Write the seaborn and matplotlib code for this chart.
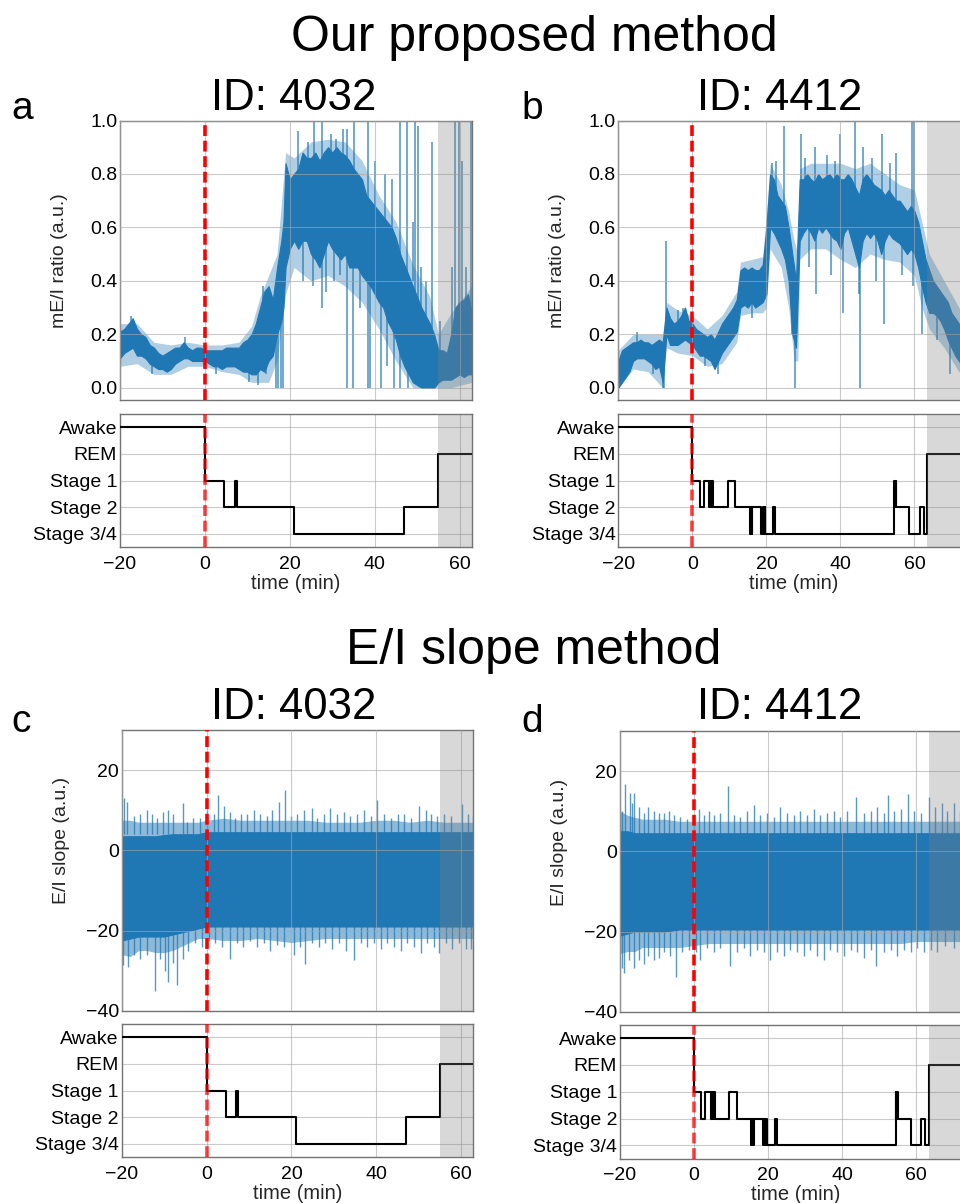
import numpy as np
import pandas as pd
import matplotlib
matplotlib.use("Agg")
import matplotlib.pyplot as plt
import seaborn as sns

# ---------------- data ----------------
STAGES = ["Stage 3/4", "Stage 2", "Stage 1", "REM", "Awake"]   # level 0..4

# Hypnogram, subject 4032 (step starts, minutes)
hyp_4032_t = [-20, 0, 4.5, 7.0, 7.5, 21.0, 47.0, 55.0, 62.85]
hyp_4032_s = ["Awake", "Stage 1", "Stage 2", "Stage 1", "Stage 2",
              "Stage 3/4", "Stage 2", "REM", "REM"]

# Hypnogram, subject 4412
hyp_4412_t = [-20, 0, 2.0, 3.1, 4.5, 4.8, 5.1, 5.4, 5.6, 9.5, 11.6, 15.5, 15.8,
              16.0, 16.2, 18.6, 19.0, 19.3, 19.5, 19.7, 21.9, 22.3, 54.5, 54.7,
              54.9, 55.1, 58.6, 61.4, 62.5, 63.5, 75.0]
hyp_4412_s = ["Awake", "Stage 1", "Stage 2", "Stage 1", "Stage 2", "Stage 1",
              "Stage 2", "Stage 1", "Stage 2", "Stage 1", "Stage 2", "Stage 3/4",
              "Stage 2", "Stage 3/4", "Stage 2", "Stage 3/4", "Stage 2",
              "Stage 3/4", "Stage 2", "Stage 3/4", "Stage 2", "Stage 3/4",
              "Stage 1", "Stage 2", "Stage 1", "Stage 2", "Stage 3/4", "Stage 2",
              "Stage 3/4", "REM", "REM"]

# mE/I ratio, 4032: envelope (low / high) of the dense trace
a_t = [-20, -19, -18, -17, -16, -15, -14, -13, -12, -11, -10, -9, -8, -7, -6, -5,
       -4, -3, -2, -1, 0, 1, 2, 3, 4, 5, 6, 7, 8, 9, 10, 11, 12, 13, 14, 15, 16,
       17, 18, 18.5, 19, 20, 21, 22, 23, 24, 25, 26, 27, 28, 29, 30, 31, 32, 33,
       34, 35, 36, 37, 38, 39, 40, 41, 42, 43, 44, 45, 46, 47, 48, 49, 50, 51,
       52, 53, 54, 55, 56, 57, 58, 59, 60, 61, 62, 62.85]
a_lo = [0.11, 0.13, 0.14, 0.15, 0.12, 0.12, 0.11, 0.09, 0.08, 0.07, 0.07, 0.06,
        0.07, 0.09, 0.10, 0.11, 0.11, 0.10, 0.10, 0.10, 0.10, 0.09, 0.08, 0.08,
        0.07, 0.08, 0.08, 0.08, 0.07, 0.06, 0.06, 0.05, 0.05, 0.07, 0.06, 0.10,
        0.12, 0.20, 0.25, 0.30, 0.45, 0.52, 0.55, 0.52, 0.55, 0.55, 0.50, 0.48,
        0.45, 0.50, 0.55, 0.52, 0.50, 0.48, 0.50, 0.45, 0.45, 0.45, 0.42, 0.40,
        0.38, 0.35, 0.32, 0.30, 0.25, 0.22, 0.18, 0.12, 0.08, 0.05, 0.02, 0.01,
        0.00, 0.00, 0.00, 0.00, 0.02, 0.03, 0.03, 0.03, 0.04, 0.05, 0.04, 0.05,
        0.05]
a_hi = [0.21, 0.22, 0.24, 0.26, 0.22, 0.20, 0.19, 0.16, 0.15, 0.13, 0.12, 0.13,
        0.14, 0.15, 0.15, 0.17, 0.15, 0.14, 0.15, 0.15, 0.14, 0.14, 0.14, 0.14,
        0.14, 0.15, 0.15, 0.15, 0.15, 0.17, 0.18, 0.20, 0.24, 0.30, 0.36, 0.38,
        0.33, 0.45, 0.55, 0.62, 0.84, 0.78, 0.80, 0.82, 0.88, 0.86, 0.86, 0.88,
        0.85, 0.88, 0.90, 0.88, 0.90, 0.88, 0.87, 0.85, 0.82, 0.80, 0.78, 0.72,
        0.70, 0.68, 0.66, 0.64, 0.62, 0.60, 0.56, 0.50, 0.46, 0.42, 0.38, 0.34,
        0.30, 0.27, 0.24, 0.20, 0.14, 0.14, 0.13, 0.20, 0.30, 0.32, 0.33, 0.35,
        0.28]
# lighter outer extent of the trace
a_ft = [-20, -16, -12, -8, -4, 0, 4, 8, 11, 13, 15, 17, 19, 21, 25, 29, 33, 37,
        41, 45, 49, 53, 55, 58, 62.85]
a_flo = [0.08, 0.09, 0.05, 0.05, 0.08, 0.08, 0.06, 0.05, 0.02, 0.02, 0.02, 0.10,
         0.35, 0.45, 0.40, 0.42, 0.38, 0.32, 0.22, 0.10, 0.0, 0.0, 0.0, 0.0, 0.02]
a_fhi = [0.24, 0.24, 0.17, 0.16, 0.17, 0.16, 0.16, 0.17, 0.23, 0.34, 0.42, 0.50,
         0.88, 0.86, 0.92, 0.93, 0.92, 0.85, 0.72, 0.62, 0.46, 0.34, 0.20, 0.28,
         0.38]
# isolated excursions: (time, from, to)
a_spikes = [(-4.6, 0.14, 0.19), (13.8, 0.25, 0.38), (22.0, 0.70, 0.96),
            (24.2, 0.75, 0.92), (25.6, 0.75, 1.0), (27.6, 0.75, 1.0),
            (29.7, 0.75, 0.95), (30.8, 0.75, 0.93), (32.5, 0.75, 0.97),
            (33.5, 0.75, 0.97), (35.2, 0.70, 1.0), (38.4, 0.60, 1.0),
            (45.9, 0.40, 1.0), (47.7, 0.35, 1.0), (49.6, 0.30, 1.0),
            (50.1, 0.30, 0.98), (52.0, 0.20, 0.40), (53.5, 0.20, 0.92),
            (55.5, 0.10, 0.25), (58.3, 0.20, 0.45), (59.0, 0.20, 1.0),
            (59.8, 0.20, 1.0), (60.5, 0.20, 0.85), (62.7, 0.20, 1.0),
            (16.8, 0.20, 0.0), (17.3, 0.25, 0.0), (17.9, 0.30, 0.0),
            (18.3, 0.30, 0.0), (25.4, 0.60, 0.38), (27.6, 0.60, 0.30),
            (30.5, 0.60, 0.40), (33.5, 0.60, 0.0), (34.9, 0.55, 0.0),
            (36.5, 0.50, 0.30), (38.4, 0.50, 0.0), (38.8, 0.50, 0.0),
            (41.5, 0.40, 0.0), (43.0, 0.35, 0.08), (44.5, 0.35, 0.0),
            (45.9, 0.30, 0.0), (47.8, 0.20, 0.0), (-17.3, 0.18, 0.27),
            (-12.5, 0.09, 0.05), (2.5, 0.10, 0.05), (10.5, 0.10, 0.02),
            (12.5, 0.10, 0.01), (14.5, 0.10, 0.05), (23.0, 0.60, 0.40),
            (28.5, 0.60, 0.36), (31.8, 0.60, 0.42), (40.0, 0.60, 0.85),
            (42.5, 0.60, 0.80), (44.0, 0.55, 0.78), (49.0, 0.40, 0.62),
            (51.0, 0.20, 0.45), (61.5, 0.20, 0.45)]

# mE/I ratio, 4412
b_t = list(range(-20, 76))
b_lo = [0.00, 0.02, 0.04, 0.06, 0.10, 0.11, 0.11, 0.11, 0.10, 0.09, 0.07, 0.08,
        0.02, 0.20, 0.16, 0.16, 0.16, 0.17, 0.18, 0.17, 0.16, 0.14, 0.12, 0.12,
        0.11, 0.10, 0.07, 0.10, 0.13, 0.15, 0.17, 0.19, 0.21, 0.30, 0.31, 0.30,
        0.32, 0.30, 0.31, 0.32, 0.35, 0.60, 0.58, 0.55, 0.52, 0.48, 0.40, 0.20,
        0.15, 0.55, 0.58, 0.60, 0.58, 0.55, 0.60, 0.58, 0.60, 0.58, 0.56, 0.55,
        0.52, 0.58, 0.60, 0.55, 0.50, 0.45, 0.55, 0.58, 0.56, 0.58, 0.55, 0.50,
        0.55, 0.58, 0.56, 0.55, 0.54, 0.52, 0.50, 0.52, 0.50, 0.45, 0.38, 0.32,
        0.28, 0.28, 0.27, 0.25, 0.22, 0.18, 0.15, 0.12, 0.10, 0.08, 0.07, 0.06]
b_hi = [0.10, 0.14, 0.15, 0.16, 0.17, 0.17, 0.18, 0.17, 0.17, 0.16, 0.17, 0.18,
        0.17, 0.30, 0.26, 0.24, 0.25, 0.27, 0.30, 0.25, 0.24, 0.22, 0.21, 0.20,
        0.19, 0.20, 0.18, 0.21, 0.24, 0.26, 0.28, 0.30, 0.33, 0.44, 0.45, 0.44,
        0.45, 0.44, 0.44, 0.46, 0.60, 0.80, 0.78, 0.72, 0.70, 0.68, 0.60, 0.50,
        0.40, 0.78, 0.78, 0.80, 0.78, 0.77, 0.80, 0.78, 0.79, 0.80, 0.78, 0.80,
        0.78, 0.78, 0.80, 0.78, 0.75, 0.72, 0.78, 0.80, 0.78, 0.76, 0.75, 0.74,
        0.72, 0.74, 0.72, 0.70, 0.70, 0.68, 0.66, 0.68, 0.66, 0.62, 0.55, 0.48,
        0.44, 0.40, 0.38, 0.36, 0.34, 0.32, 0.28, 0.26, 0.24, 0.22, 0.20, 0.18]
b_ft = [-20, -16, -12, -8, -7, -4, 0, 4, 8, 12, 13, 16, 19, 20, 21, 24, 26, 27.5,
        28.5, 29, 32, 36, 40, 44, 48, 52, 56, 60, 62, 64, 68, 72, 75]
b_flo = [0.0, 0.07, 0.06, 0.0, 0.15, 0.13, 0.12, 0.08, 0.09, 0.17, 0.27, 0.28,
         0.28, 0.30, 0.52, 0.45, 0.30, 0.10, 0.10, 0.48, 0.52, 0.52, 0.48, 0.45,
         0.50, 0.48, 0.47, 0.42, 0.30, 0.22, 0.15, 0.06, 0.04]
b_fhi = [0.14, 0.20, 0.20, 0.20, 0.32, 0.29, 0.27, 0.22, 0.27, 0.36, 0.47, 0.48,
         0.49, 0.65, 0.84, 0.76, 0.66, 0.55, 0.50, 0.82, 0.84, 0.84, 0.84, 0.82,
         0.84, 0.80, 0.76, 0.74, 0.62, 0.50, 0.40, 0.30, 0.24]
b_spikes = [(-7.1, 0.25, 0.55), (-2.5, 0.22, 0.30), (21.5, 0.70, 0.84),
            (24.7, 0.65, 0.98), (29.4, 0.70, 0.95), (33.0, 0.70, 0.90),
            (36.5, 0.70, 0.87), (40.0, 0.70, 0.95), (43.9, 0.70, 1.0),
            (46.0, 0.70, 0.90), (51.3, 0.70, 0.95), (55.0, 0.68, 0.88),
            (59.2, 0.62, 1.0), (60.0, 0.62, 1.0), (-10.5, 0.10, 0.05),
            (-8.0, 0.10, 0.0), (-7.7, 0.10, 0.0), (6.9, 0.12, 0.05),
            (26.9, 0.40, 0.20), (27.8, 0.30, 0.0), (33.5, 0.60, 0.35),
            (37.5, 0.60, 0.42), (40.6, 0.60, 0.28), (44.9, 0.55, 0.35),
            (45.4, 0.55, 0.0), (51.7, 0.60, 0.24), (59.5, 0.55, 0.38),
            (62.1, 0.45, 0.20), (69.7, 0.20, 0.05), (-15.0, 0.12, 0.21),
            (-4.0, 0.20, 0.29), (3.5, 0.15, 0.08), (16.0, 0.35, 0.26),
            (22.5, 0.65, 0.85), (30.5, 0.65, 0.86), (38.5, 0.65, 0.85),
            (48.5, 0.65, 0.86), (53.5, 0.65, 0.84), (31.5, 0.60, 0.45),
            (49.5, 0.58, 0.40), (56.5, 0.58, 0.42), (66.0, 0.30, 0.18)]

# E/I slope, 4032: dense core and lighter fringe envelopes
c_t = [-20, -18, -16, -14, -12, -10, -8, -6, -4, -2, 0, 4, 8, 12, 16, 20, 24,
       28, 32, 36, 40, 44, 48, 52, 56, 60, 62.85]
c_lo = [-22.5, -22, -21.5, -21.5, -21.5, -21.5, -21, -20.5, -20, -19.5, -19,
        -19, -19, -19, -19, -19, -19, -19, -19, -19, -19, -19, -19, -19, -19,
        -19, -19]
c_hi = [3.5, 3.5, 3.5, 3.5, 3.5, 3.8, 4, 4, 4, 4, 4.5, 4.5, 4.5, 4.5, 4.5, 4.5,
        4.5, 4.5, 4.5, 4.5, 4.5, 4.5, 4.5, 4.5, 4.5, 4.5, 4.5]
c_flo = [-26, -26.5, -25, -25, -25.5, -25.5, -25, -24, -23, -22, -22, -22.5,
         -22.5, -22, -22.5, -23, -22.5, -22, -22, -22, -22, -22, -22, -22, -22,
         -22, -22]
c_fhi = [7.5, 7.5, 7, 7, 7, 7, 7, 7, 7, 7, 7.5, 8, 7.5, 7.5, 7.5, 7.5, 7.5, 7,
         7, 7, 7.5, 7.5, 7, 7.5, 7, 7, 7]
# spike tips above / below the dense core
c_up_t = [-19.4, -18.8, -17.2, -15.7, -14.1, -12.9, -11.7, -10.2, -9.0, -7.8,
          -5.6, -4.6, -3.1, -1.5, 0.1, 1.7, 2.8, 4.0, 5.6, 6.8, 8.0, 9.5, 11.1,
          12.7, 14.3, 15.4, 17.0, 18.4, 19.8, 21.3, 22.9, 24.9, 26.1, 27.6,
          29.2, 30.8, 32.4, 33.9, 35.5, 37.1, 38.7, 40.2, 41.8, 43.4, 45.0,
          46.5, 48.1, 50.1, 51.7, 52.8, 54.4, 56.0, 57.6, 60.2, 61.5, 62.7]
c_up_v = [13, 12, 8.5, 9, 10, 9, 8, 9.5, 10, 9, 11.7, 7, 8, 8, 10, 9, 13.7, 11,
          9.5, 8, 9, 9, 10, 9, 8.5, 10, 12, 15, 8.5, 9, 10, 10.5, 8, 9, 10.5, 9,
          9.5, 8.5, 9, 10, 8.5, 12.5, 9, 8, 9, 9, 8, 11, 10, 9, 8.5, 9, 8.5,
          11.5, 9, 8.5]
c_dn_t = [-19.6, -18.4, -17.2, -15.7, -14.1, -12.1, -10.9, -9.8, -9.0, -7.8,
          -7.0, -5.6, -4.3, -2.7, -1.1, 0.5, 2.0, 3.6, 5.6, 7.2, 8.7, 10.3,
          11.9, 13.5, 15.0, 16.6, 18.2, 20.6, 22.0, 23.3, 24.9, 26.5, 28.0,
          29.6, 31.2, 32.8, 34.7, 36.3, 37.9, 39.4, 41.0, 42.6, 44.2, 45.7,
          47.3, 48.9, 50.5, 52.0, 53.6, 54.8, 56.4, 57.9, 59.5, 61.1, 62.3]
c_dn_v = [-28.5, -29, -26, -27, -26, -35, -27, -30, -32.8, -28, -33.7, -27, -25,
          -23, -24, -22.5, -23, -24, -27, -23, -24, -22.5, -24, -23, -25, -23.5,
          -24, -26, -24, -28.4, -23, -24, -23, -24.5, -23, -25, -27.3, -23, -24,
          -23, -24.5, -23, -24, -25, -23, -24, -25.5, -23, -24, -25.6, -23,
          -24.5, -23, -24.5, -24.5]

# E/I slope, 4412
d_t = [-20, -18, -16, -14, -12, -8, -4, 0, 4, 8, 12, 16, 20, 24, 28, 32, 36, 40,
       44, 48, 52, 56, 60, 64, 68, 72, 75]
d_lo = [-21, -20.5, -20, -20, -20, -20, -19.5, -19.5, -19.5, -19.5, -19.5,
        -19.5, -19.5, -19.5, -19.5, -19.5, -19.5, -19.5, -19.5, -19.5, -19.5,
        -19.5, -19.5, -19.5, -19.5, -19.5, -19.5]
d_hi = [5, 5, 4.5, 4.5, 4.5, 4.5, 4.5, 4.5, 4.5, 4.5, 4.5, 4.5, 4.5, 4.5, 4.5,
        4.5, 4.5, 4.5, 4.5, 4.5, 4.5, 4.5, 4.5, 4.5, 4.5, 4.5, 4.5]
d_flo = [-25.5, -25, -25, -24, -24, -24, -24, -23.5, -23, -23, -23, -23, -23,
         -23, -23, -23, -23, -23, -23, -23, -23, -23, -22.5, -22.5, -22.5, -22.5,
         -22.5]
d_fhi = [10, 9, 8.5, 8, 8, 8, 7.5, 7.5, 7.5, 7.5, 7.5, 7.5, 7.5, 7.5, 7.5, 7.5,
         7.5, 7.5, 7.5, 7.5, 7.5, 7.5, 7.5, 7.5, 7.5, 7.5, 7.5]
d_up_t = [-19.5, -18.6, -17.4, -16.8, -16.1, -15.0, -13.6, -12.3, -10.9, -9.5,
          -8.2, -6.8, -5.5, -3.7, -1.9, -0.1, 1.3, 2.6, 4.0, 5.3, 7.1, 9.1, 10.7,
          12.5, 14.3, 16.1, 17.9, 19.7, 21.5, 23.3, 25.1, 26.9, 28.7, 30.5,
          32.3, 34.1, 35.9, 37.7, 39.5, 41.4, 43.9, 45.9, 47.7, 49.5, 51.3,
          52.3, 54.0, 55.8, 57.7, 59.4, 61.2, 63.6, 65.2, 67.0, 68.4, 70.2,
          71.8]
d_up_v = [10, 16.9, 14.5, 12, 14.5, 11, 9.5, 11, 10, 9.5, 9.5, 10, 9, 8.5, 8, 9,
          10.5, 9, 10, 9, 9.5, 16.3, 9, 8.5, 10, 11.5, 9, 9.5, 8.5, 11, 9.5, 9,
          10, 9, 10.5, 9, 9.5, 10, 8.5, 10, 13.6, 9.5, 10, 11, 9.5, 14, 10,
          10.5, 14.4, 10, 9.5, 13.6, 11, 12, 10, 12, 10]
d_dn_t = [-19.5, -19.0, -17.7, -16.3, -15.0, -13.6, -12.3, -10.9, -9.5, -8.2,
          -6.4, -4.9, -3.2, -1.4, 0.4, 1.7, 3.5, 5.3, 7.1, 9.8, 11.6, 13.4,
          15.2, 17.0, 18.8, 20.6, 22.4, 24.2, 26.0, 27.8, 29.6, 31.4, 33.2,
          35.0, 36.8, 38.6, 40.5, 42.3, 44.1, 45.9, 47.7, 49.3, 51.3, 53.1,
          54.9, 56.7, 58.5, 60.3, 62.1, 63.9, 65.7, 67.9, 70.2, 71.8]
d_dn_v = [-29, -30.4, -27, -29, -27, -28, -26, -27, -26.5, -25, -26, -31.4, -25,
          -24.5, -25, -27, -24, -25, -24, -28.5, -25, -24, -26, -24.5, -25, -27,
          -25, -26, -24.5, -25, -26, -24.5, -26, -27, -24.5, -25, -26, -24.5,
          -25, -26.5, -24.5, -28.7, -25, -24.5, -26, -24.5, -25, -24, -25,
          -24.5, -25, -23.5, -24, -22.5]

# ---------------- style ----------------
sns.set_theme(style="whitegrid")
plt.rcParams["font.family"] = ["Liberation Sans", "DejaVu Sans"]
plt.rcParams.update({
    "axes.edgecolor": "0.45", "axes.linewidth": 1.0,
    "grid.color": "#a8a8a8", "grid.linewidth": 0.8, "grid.alpha": 0.6,
    "xtick.major.size": 3.5, "xtick.major.width": 0.8, "xtick.color": "0.45",
    "xtick.labelcolor": "black", "ytick.major.size": 0, "ytick.labelcolor": "black",
    "xtick.major.pad": 2.5, "ytick.major.pad": 2.0,
    "xtick.labelsize": 14, "ytick.labelsize": 14,
})

BLUE = "#1f77b4"
W, H = 960, 1203
fig = plt.figure(figsize=(W / 100, H / 100), dpi=100)


def add_ax(left, top, right, bottom):
    return fig.add_axes([left / W, 1 - bottom / H, (right - left) / W, (bottom - top) / H])


def common_signal(ax, xlim, ylim, yticks, ylabel, span0, label_y):
    ax.set_axisbelow(False)
    ax.axvspan(span0, xlim[1], color="grey", alpha=0.3, lw=0, zorder=3)
    ax.axvline(0, color="red", lw=2.6, ls=(0, (3.0, 1.3)), zorder=5)
    ax.set_xlim(*xlim)
    ax.set_ylim(*ylim)
    ax.set_xticks([-20, 0, 20, 40, 60])
    ax.set_yticks(yticks)
    ax.tick_params(axis="x", labelbottom=False)
    ax.set_ylabel(ylabel, fontsize=14)
    ax.yaxis.set_label_coords(-0.148, label_y)
    ax.grid(True)


def ratio_panel(ax, t, lo, hi, ft, flo, fhi, spikes, xlim, span0):
    ax.fill_between(ft, flo, fhi, color=BLUE, alpha=0.35, lw=0, zorder=1)
    ax.fill_between(t, lo, hi, color=BLUE, lw=0.8, edgecolor=BLUE, zorder=1.2)
    ax.vlines([s[0] for s in spikes], [s[1] for s in spikes],
              [s[2] for s in spikes], color=BLUE, lw=1.1, alpha=0.8, zorder=1.3)
    common_signal(ax, xlim, (-0.046, 1.0), [0.0, 0.2, 0.4, 0.6, 0.8, 1.0],
                  "mE/I ratio (a.u.)", span0, 0.5)
    ax.set_yticklabels(["0.0", "0.2", "0.4", "0.6", "0.8", "1.0"])


def slope_panel(ax, t, lo, hi, flo, fhi, up_t, up_v, dn_t, dn_v, xlim, span0,
                label_y):
    ax.fill_between(t, flo, fhi, color=BLUE, alpha=0.5, lw=0, zorder=1)
    ax.fill_between(t, lo, hi, color=BLUE, lw=0.8, edgecolor=BLUE, zorder=1.2)
    ax.vlines(up_t, 4, up_v, color=BLUE, lw=1.0, alpha=0.75, zorder=1.3)
    ax.vlines(dn_t, -19, dn_v, color=BLUE, lw=1.0, alpha=0.75, zorder=1.3)
    common_signal(ax, xlim, (-40, 30), [-40, -20, 0, 20], "E/I slope (a.u.)",
                  span0, label_y)
    ax.set_yticklabels(["\u221240", "\u221220", "0", "20"])


def hyp_panel(ax, times, stages, xlim, span0):
    lvl = [STAGES.index(s) for s in stages]
    df = pd.DataFrame({"time": times, "level": lvl})
    sns.lineplot(data=df, x="time", y="level", drawstyle="steps-post",
                 color="black", lw=1.5, estimator=None, ax=ax, zorder=3)
    ax.axvspan(span0, xlim[1], color="grey", alpha=0.3, lw=0, zorder=3.5)
    ax.axvline(0, color="red", lw=2.6, ls=(0, (3.0, 1.3)), alpha=0.75, zorder=5)
    ax.set_xlim(*xlim)
    ax.set_ylim(-0.5, 4.5)
    ax.set_yticks(range(5))
    ax.set_yticklabels(STAGES)
    ax.set_xticks([-20, 0, 20, 40, 60])
    ax.set_xticklabels(["\u221220", "0", "20", "40", "60"])
    ax.set_xlabel("time (min)", fontsize=14.5, labelpad=1)
    ax.set_ylabel("")
    ax.grid(True)


# panel a
ax = add_ax(120, 120.5, 471.7, 400)
ratio_panel(ax, a_t, a_lo, a_hi, a_ft, a_flo, a_fhi, a_spikes, (-20, 62.85), 55.0)
ax = add_ax(120, 414, 471.7, 547.3)
hyp_panel(ax, hyp_4032_t, hyp_4032_s, (-20, 62.85), 55.0)

# panel b
ax = add_ax(618.3, 120.5, 970, 400)
ratio_panel(ax, b_t, b_lo, b_hi, b_ft, b_flo, b_fhi, b_spikes, (-20, 75), 63.5)
ax = add_ax(618.3, 414, 970, 547.3)
hyp_panel(ax, hyp_4412_t, hyp_4412_s, (-20, 75), 63.5)

# panel c
ax = add_ax(121.7, 730, 473.3, 1010.7)
slope_panel(ax, c_t, c_lo, c_hi, c_flo, c_fhi, c_up_t, c_up_v, c_dn_t, c_dn_v,
            (-20, 62.85), 55.0, 0.605)
ax = add_ax(121.7, 1024, 473.3, 1157.3)
hyp_panel(ax, hyp_4032_t, hyp_4032_s, (-20, 62.85), 55.0)

# panel d
ax = add_ax(620, 731, 971.6, 1011.7)
slope_panel(ax, d_t, d_lo, d_hi, d_flo, d_fhi, d_up_t, d_up_v, d_dn_t, d_dn_v,
            (-20, 75), 63.5, 0.603)
ax = add_ax(620, 1024.7, 971.6, 1158.7)
hyp_panel(ax, hyp_4412_t, hyp_4412_s, (-20, 75), 63.5)

# ---------------- texts ----------------
def ftext(x, y, s, size, ha="center"):
    fig.text(x / W, 1 - y / H, s, fontsize=size, ha=ha, va="baseline", color="black")

ftext(534, 51, "Our proposed method", 36)
ftext(534, 664, "E/I slope method", 36)
ftext(294, 110, "ID: 4032", 31.5)
ftext(780, 110, "ID: 4412", 31.5)
ftext(294, 719, "ID: 4032", 31.5)
ftext(780, 719, "ID: 4412", 31.5)
ftext(11, 119, "a", 28, "left")
ftext(521, 119, "b", 28, "left")
ftext(11, 732, "c", 28, "left")
ftext(521, 732, "d", 28, "left")

fig.savefig("out.png", dpi=100)
